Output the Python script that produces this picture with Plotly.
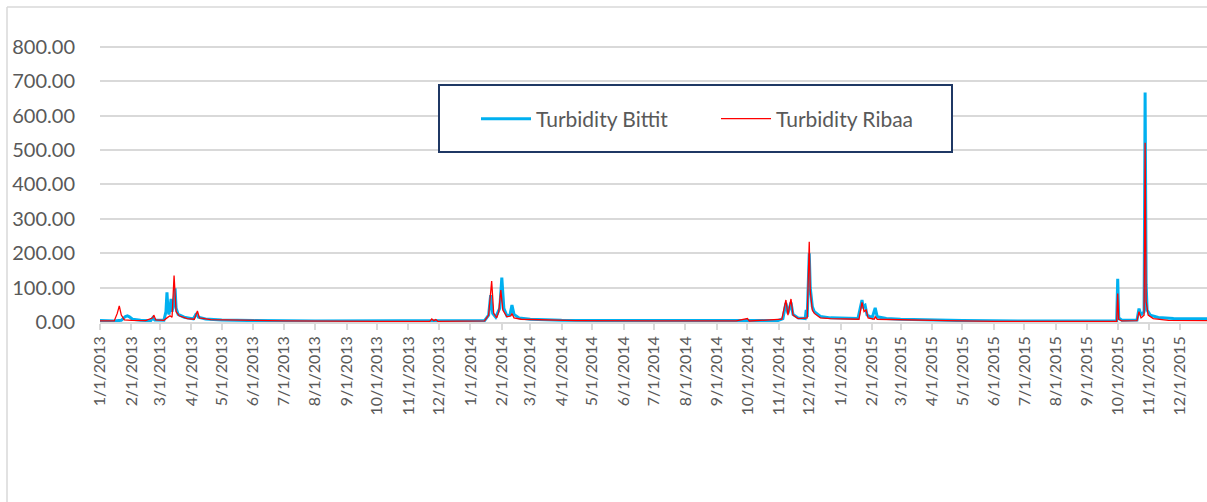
import plotly.graph_objects as go

# ---- data ----
bittit_dates = [
    "2013-01-01", "2013-01-15", "2013-01-22", "2013-01-26", "2013-01-28", "2013-01-30",
    "2013-02-02", "2013-02-10", "2013-02-20", "2013-02-22", "2013-02-24", "2013-03-05",
    "2013-03-07", "2013-03-08", "2013-03-09", "2013-03-10", "2013-03-11", "2013-03-12",
    "2013-03-13", "2013-03-15", "2013-03-16", "2013-03-17", "2013-03-19", "2013-03-25",
    "2013-04-03", "2013-04-06", "2013-04-08", "2013-04-15", "2013-05-01", "2013-06-01",
    "2013-08-01", "2013-10-01", "2013-11-20", "2013-12-31", "2014-01-15", "2014-01-19",
    "2014-01-21", "2014-01-23", "2014-01-26", "2014-01-30", "2014-02-01", "2014-02-03",
    "2014-02-06", "2014-02-09", "2014-02-11", "2014-02-13", "2014-02-18", "2014-03-01",
    "2014-04-01", "2014-06-01", "2014-09-01", "2014-10-01", "2014-10-31", "2014-11-05",
    "2014-11-08", "2014-11-10", "2014-11-13", "2014-11-15", "2014-11-20", "2014-11-27",
    "2014-11-28", "2014-11-29", "2014-12-01", "2014-12-02", "2014-12-04", "2014-12-06",
    "2014-12-12", "2014-12-22", "2015-01-05", "2015-01-18", "2015-01-22", "2015-01-23",
    "2015-01-25", "2015-01-27", "2015-02-01", "2015-02-04", "2015-02-06", "2015-02-15",
    "2015-03-01", "2015-04-01", "2015-05-01", "2015-07-01", "2015-09-30", "2015-10-01",
    "2015-10-02", "2015-10-05", "2015-10-20", "2015-10-22", "2015-10-24", "2015-10-27",
    "2015-10-28", "2015-10-29", "2015-10-30", "2015-11-02", "2015-11-10", "2015-11-25",
    "2015-12-15", "2015-12-31",
]
bittit_values = [
    4, 3, 5, 16, 18, 15,
    8, 5, 4, 12, 6, 5,
    30, 86, 35, 22, 40, 67,
    30, 60, 98, 40, 22, 14,
    9, 25, 14, 9, 6, 4,
    3, 3, 3, 3, 4, 20,
    78, 25, 14, 40, 129, 40,
    18, 20, 49, 22, 12, 8,
    5, 4, 3, 4, 4, 10,
    55, 25, 57, 22, 12, 10,
    35, 15, 200, 99, 45, 30,
    16, 12, 10, 10, 64, 45,
    49, 20, 12, 41, 15, 10,
    8, 6, 4, 3, 3, 126,
    12, 5, 6, 39, 20, 30,
    667, 110, 35, 20, 13, 10,
    9, 9,
]

ribaa_dates = [
    "2013-01-01", "2013-01-15", "2013-01-18", "2013-01-20", "2013-01-22", "2013-01-25",
    "2013-02-01", "2013-02-15", "2013-02-22", "2013-02-23", "2013-02-25", "2013-03-05",
    "2013-03-08", "2013-03-11", "2013-03-13", "2013-03-15", "2013-03-17", "2013-03-20",
    "2013-03-28", "2013-04-04", "2013-04-07", "2013-04-09", "2013-04-20", "2013-05-15",
    "2013-07-01", "2013-10-01", "2013-11-22", "2013-11-24", "2013-11-26", "2013-11-28",
    "2013-11-30", "2014-01-15", "2014-01-19", "2014-01-22", "2014-01-24", "2014-01-27",
    "2014-01-29", "2014-01-31", "2014-02-02", "2014-02-06", "2014-02-10", "2014-02-11",
    "2014-02-13", "2014-02-20", "2014-03-10", "2014-04-15", "2014-07-01", "2014-09-20",
    "2014-10-01", "2014-10-03", "2014-11-04", "2014-11-08", "2014-11-10", "2014-11-13",
    "2014-11-15", "2014-11-20", "2014-11-29", "2014-12-01", "2014-12-02", "2014-12-04",
    "2014-12-06", "2014-12-12", "2014-12-22", "2015-01-10", "2015-01-19", "2015-01-22",
    "2015-01-24", "2015-01-26", "2015-01-28", "2015-02-03", "2015-02-04", "2015-02-06",
    "2015-03-01", "2015-04-15", "2015-06-01", "2015-09-30", "2015-10-01", "2015-10-02",
    "2015-10-05", "2015-10-20", "2015-10-22", "2015-10-24", "2015-10-27", "2015-10-28",
    "2015-10-29", "2015-10-31", "2015-11-05", "2015-11-20", "2015-12-31",
]
ribaa_values = [
    3, 3, 25, 47, 20, 6,
    5, 4, 12, 20, 6, 5,
    12, 18, 14, 135, 30, 18,
    10, 8, 32, 12, 7, 5,
    3, 2, 2, 9, 4, 7,
    2, 3, 20, 119, 25, 12,
    30, 93, 35, 15, 18, 25,
    12, 8, 6, 4, 3, 3,
    10, 3, 8, 64, 20, 67,
    20, 10, 12, 233, 90, 35,
    25, 12, 10, 8, 8, 57,
    30, 35, 12, 8, 15, 8,
    6, 4, 2, 2, 83, 8,
    3, 4, 30, 12, 20, 521,
    60, 20, 10, 5, 4,
]

series_names = ["Turbidity Bittit", "Turbidity Ribaa"]
y_ticks = [0, 100, 200, 300, 400, 500, 600, 700, 800]

# ---- figure ----
W, H = 1207, 502
ML, MR, MT, MB = 100, 0, 40, 180
PW, PH = W - ML - MR, H - MT - MB


def px_x(p):
    return (p - ML) / PW


def px_y(p):
    return (H - MB - p) / PH


fig = go.Figure()
fig.add_trace(go.Scatter(
    x=bittit_dates, y=bittit_values, mode="lines", name=series_names[0],
    line=dict(color="#00b0f0", width=3),
))
fig.add_trace(go.Scatter(
    x=ribaa_dates, y=ribaa_values, mode="lines", name=series_names[1],
    line=dict(color="#ff0000", width=1.3),
))

grey_text = "#595959"
fig.update_layout(
    width=W, height=H,
    margin=dict(l=ML, r=MR, t=MT, b=MB, pad=0),
    paper_bgcolor="white", plot_bgcolor="white",
    font=dict(family="Lato, 'Open Sans', sans-serif", color=grey_text),
    showlegend=True,
    legend=dict(
        orientation="h", x=px_x(476), y=px_y(119), xanchor="left", yanchor="middle",
        font=dict(size=21, color=grey_text), bgcolor="rgba(0,0,0,0)",
        borderwidth=0, itemwidth=50, entrywidth=175, entrywidthmode="pixels",
    ),
    xaxis=dict(
        type="date", range=["2013-01-01", "2015-12-28"],
        tick0="2013-01-01", dtick="M1", tickformat="%-m/%-d/%Y", tickangle=-90,
        tickfont=dict(size=16, color=grey_text),
        showgrid=False, showline=True, linecolor="#d9d9d9", linewidth=1.5,
        ticks="outside", ticklen=6, tickcolor="#d9d9d9", tickwidth=1.5,
        zeroline=False,
    ),
    yaxis=dict(
        range=[0, 820], tickvals=y_ticks, tickformat=".2f",
        tickfont=dict(size=20, color=grey_text),
        showgrid=True, gridcolor="#d9d9d9", gridwidth=1.5,
        showline=False, zeroline=False, ticks="", ticklabelstandoff=24,
    ),
    shapes=[
        # legend box
        dict(type="rect", xref="paper", yref="paper",
             x0=px_x(439), x1=px_x(952), y0=px_y(152), y1=px_y(85),
             line=dict(color="#1f3864", width=2), fillcolor="white", layer="above"),
        # chart area frame (left and top edges)
        dict(type="line", xref="paper", yref="paper",
             x0=px_x(7), x1=px_x(7), y0=px_y(502), y1=px_y(7),
             line=dict(color="#d9d9d9", width=1.5)),
        dict(type="line", xref="paper", yref="paper",
             x0=px_x(7), x1=px_x(1207), y0=px_y(7), y1=px_y(7),
             line=dict(color="#d9d9d9", width=1.5)),
    ],
)

fig.write_html(
    "out.html",
    config={"displayModeBar": False},
    post_script="document.body.style.margin='0px';document.body.style.overflow='hidden';",
)
